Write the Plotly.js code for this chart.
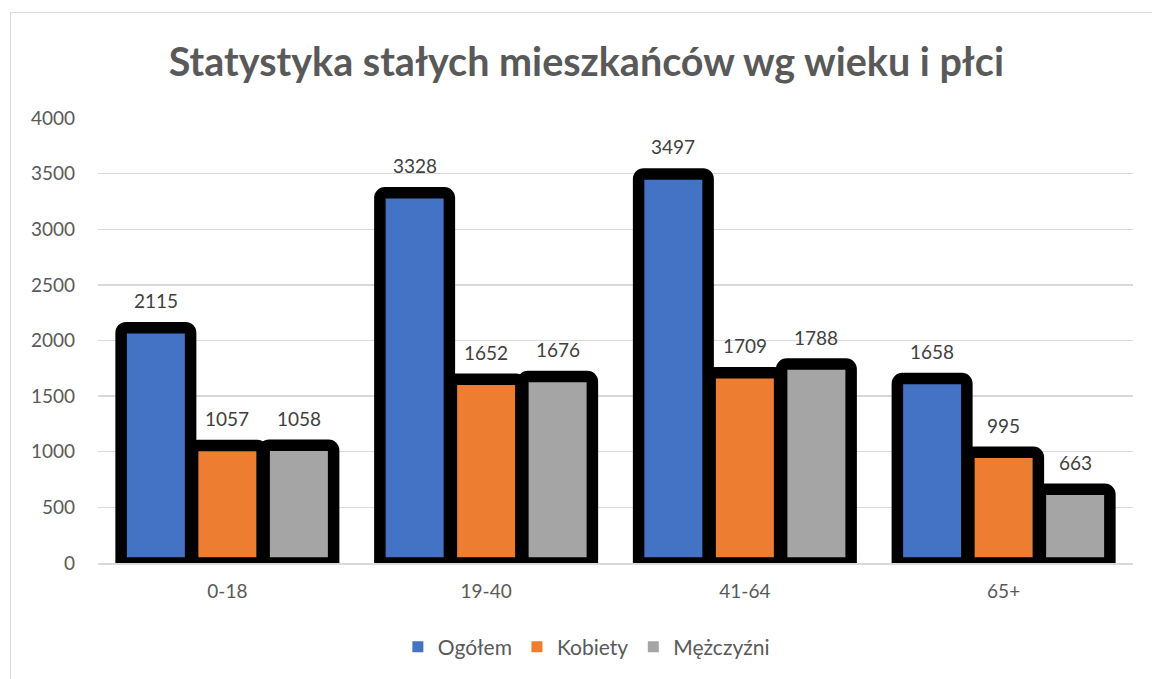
<!DOCTYPE html>
<html>
<head>
<meta charset="utf-8">
<script src="https://cdn.plot.ly/plotly-3.0.1.min.js"></script>
<style>
html,body{margin:0;padding:0;background:#fff;overflow:hidden;}
#chart{width:1152px;height:679px;}
#frame{position:absolute;left:10px;top:12px;width:1200px;height:720px;border:1.5px solid #d9d9d9;pointer-events:none;}
</style>
</head>
<body>
<div id="chart"></div>
<div id="frame"></div>
<script>
var categories = ['0-18', '19-40', '41-64', '65+'];
var ogolem = [2115, 3328, 3497, 1658];
var kobiety = [1057, 1652, 1709, 995];
var mezczyzni = [1058, 1676, 1788, 663];
var seriesNames = ['Ogółem', 'Kobiety', 'Mężczyźni'];
var yTicks = [0, 500, 1000, 1500, 2000, 2500, 3000, 3500, 4000];

var FONT = 'Lato, "Open Sans", sans-serif';
var colors = ['#4472c4', '#ed7d31', '#a5a5a5'];
var series = [ogolem, kobiety, mezczyzni];
var barOffsetPx = 71.5;

var traces = [];
var annotations = [];
series.forEach(function (vals, i) {
  traces.push({
    type: 'bar',
    name: seriesNames[i],
    x: categories,
    y: vals,
    showlegend: false,
    cliponaxis: true,
    marker: {color: colors[i], line: {color: '#000000', width: 11.5}, cornerradius: 5},
    hoverinfo: 'x+y+name'
  });
  vals.forEach(function (v, j) {
    annotations.push({
      x: categories[j], y: v, xref: 'x', yref: 'y',
      text: String(v), showarrow: false,
      xanchor: 'center', yanchor: 'middle',
      xshift: (i - 1) * barOffsetPx, yshift: 27,
      font: {family: FONT, size: 19, color: '#404040'}
    });
  });
});
// legend entries (small squares, like the original)
series.forEach(function (vals, i) {
  traces.push({
    type: 'scatter', mode: 'markers',
    name: seriesNames[i],
    x: [null], y: [null],
    marker: {symbol: 'square', size: 11, color: colors[i], line: {width: 0}},
    showlegend: true, hoverinfo: 'skip'
  });
});

var layout = {
  width: 1152,
  height: 679,
  margin: {l: 98, r: 19, t: 118, b: 116},
  paper_bgcolor: '#ffffff',
  plot_bgcolor: '#ffffff',
  font: {family: FONT, color: '#595959', size: 19},
  title: {
    text: 'Statystyka stałych mieszkańców wg wieku i płci',
    font: {family: FONT, size: 39.5, color: '#595959', weight: 'bold'},
    x: 0.509, xanchor: 'center', y: 0.909, yanchor: 'middle'
  },
  barmode: 'group',
  bargap: 0.171,
  bargroupgap: 0.028,
  annotations: annotations,
  xaxis: {
    type: 'category',
    categoryorder: 'array', categoryarray: categories,
    showline: true, linecolor: '#d9d9d9', linewidth: 2,
    ticks: '', showgrid: false,
    ticklabelstandoff: 10,
    tickfont: {family: FONT, size: 19, color: '#595959'},
    automargin: false
  },
  yaxis: {
    range: [0, 4000],
    tickvals: yTicks,
    ticktext: yTicks.map(String),
    showgrid: true, gridcolor: '#d9d9d9', gridwidth: 1.3,
    zeroline: false, showline: false, ticks: '',
    ticklabelstandoff: 22,
    tickfont: {family: FONT, size: 19, color: '#595959'},
    automargin: false
  },
  showlegend: true,
  legend: {
    orientation: 'h', x: 0.509, xref: 'container', xanchor: 'center',
    y: 0.047, yref: 'container', yanchor: 'middle',
    font: {family: FONT, size: 21, color: '#595959'},
    itemwidth: 30, traceorder: 'normal'
  }
};

Plotly.newPlot('chart', traces, layout, {displayModeBar: false, staticPlot: true});
</script>
</body>
</html>
